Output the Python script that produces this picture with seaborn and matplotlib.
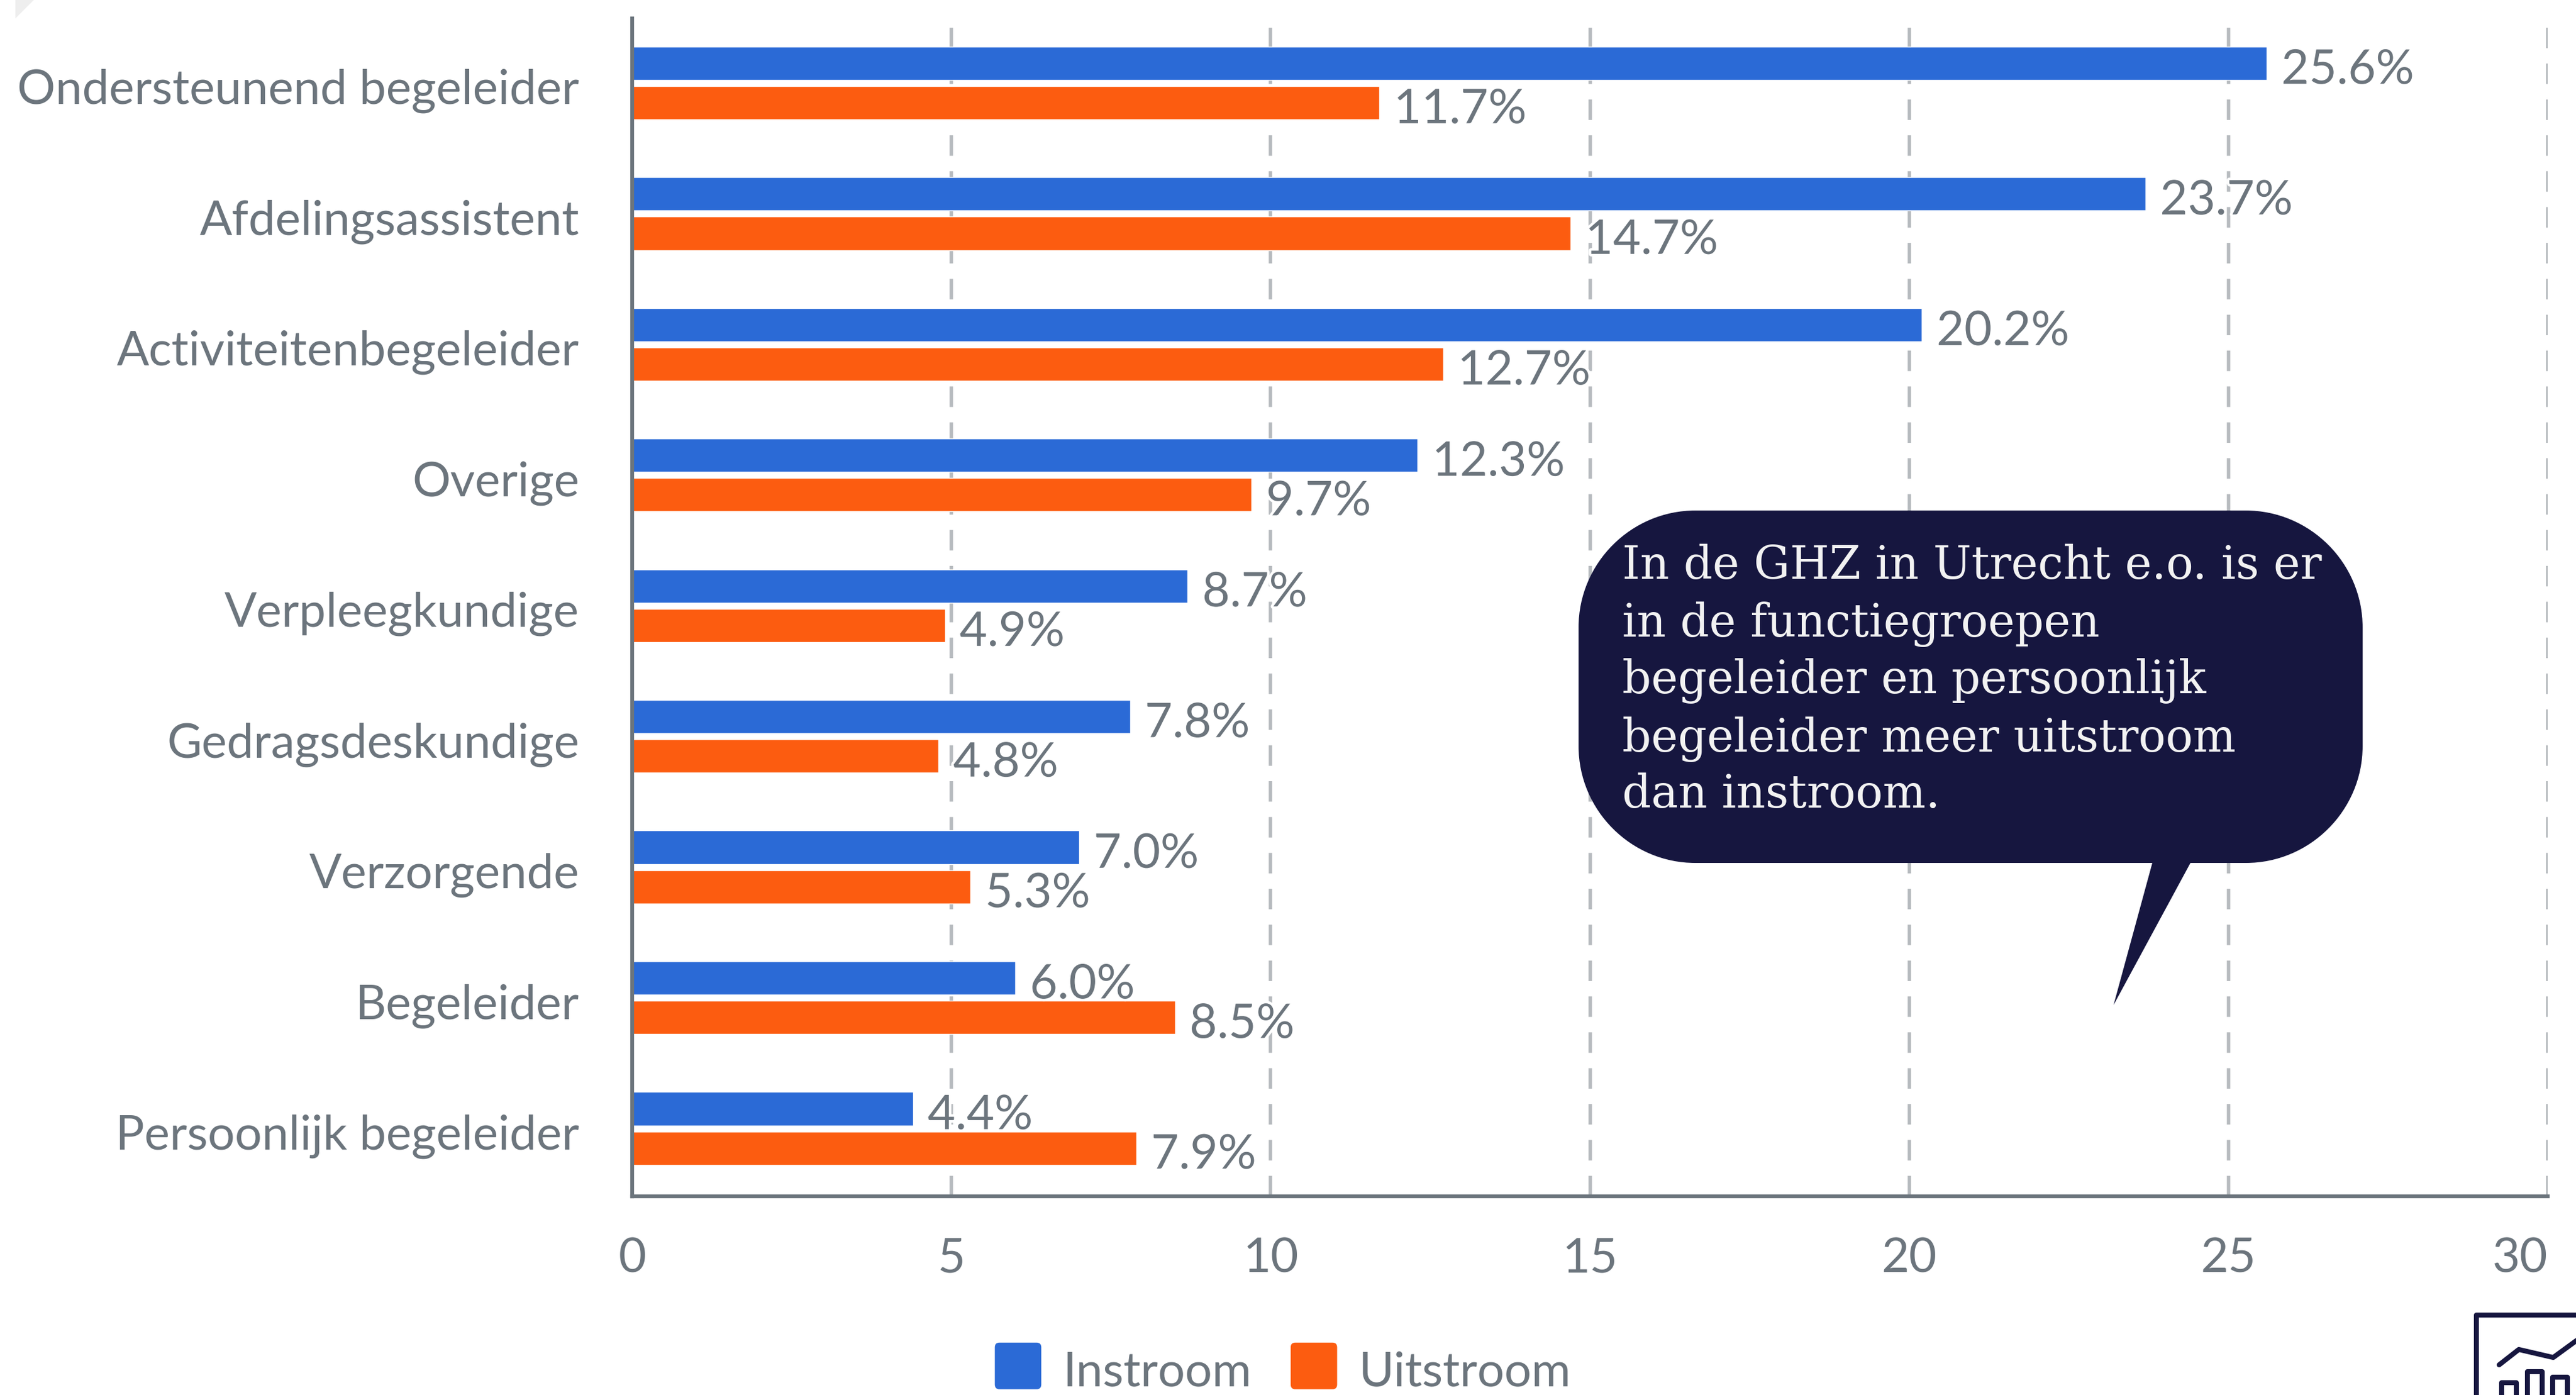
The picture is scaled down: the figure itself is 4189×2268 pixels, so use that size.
import matplotlib
matplotlib.use('Agg')
import matplotlib.pyplot as plt
import matplotlib.patheffects as pe
from matplotlib.legend_handler import HandlerPatch
from matplotlib.lines import Line2D
from matplotlib.patches import FancyBboxPatch, PathPatch, Polygon, Rectangle
from matplotlib.path import Path
from matplotlib.transforms import Affine2D, ScaledTranslation
import pandas as pd
import seaborn as sns

categories = ['Ondersteunend begeleider', 'Afdelingsassistent', 'Activiteitenbegeleider',
              'Overige', 'Verpleegkundige', 'Gedragsdeskundige', 'Verzorgende',
              'Begeleider', 'Persoonlijk begeleider']
instroom = [25.6, 23.7, 20.2, 12.3, 8.7, 7.8, 7.0, 6.0, 4.4]
uitstroom = [11.7, 14.7, 12.7, 9.7, 4.9, 4.8, 5.3, 8.5, 7.9]
x_ticks = [0, 5, 10, 15, 20, 25, 30]
note_lines = ['In de GHZ in Utrecht e.o. is er', 'in de functiegroepen',
              'begeleider en persoonlijk', 'begeleider meer uitstroom', 'dan instroom.']

W, H = 4189, 2268
GREY = '#6c757d'
GRID = '#b6babe'
NAVY = '#16163f'
BLUE = '#2b6ad6'
ORANGE = '#fc5c10'
FS = 56


def round_swatch(legend, orig_handle, xdescent, ydescent, width, height, fontsize):
    return FancyBboxPatch((-xdescent + 4, -ydescent + 9), width - 8, height - 8,
                          boxstyle='round,pad=4,rounding_size=6')


sns.set_theme(style='white')
plt.rcParams['font.family'] = ['Lato', 'DejaVu Sans']

df = pd.DataFrame({'Functie': categories, 'Instroom': instroom, 'Uitstroom': uitstroom})
df = df.melt(id_vars='Functie', var_name='Stroom', value_name='Percentage')

fig = plt.figure(figsize=(W / 100, H / 100), dpi=100, facecolor='white')
ax = fig.add_axes([1028 / W, 1 - 1945 / H, (4143 - 1028) / W, (1945 - 30) / H])

sns.barplot(data=df, y='Functie', x='Percentage', hue='Stroom', order=categories,
            palette=[BLUE, ORANGE], width=0.604, gap=0.156, saturation=1, ax=ax, zorder=3)

ax.set_xlim(0, 30)
ax.set_ylim(8.52, -0.494)
ax.set_xlabel('')
ax.set_ylabel('')
ax.set_xticks(x_ticks)
ax.tick_params(axis='both', length=0, labelsize=FS, labelcolor=GREY)
ax.tick_params(axis='x', pad=48)
ax.tick_params(axis='y', pad=62)
ax.get_xticklabels()[-1].set_ha('right')

down = ScaledTranslation(0, -4 / 72, fig.dpi_scale_trans)
for t in ax.get_yticklabels():
    t.set_transform(t.get_transform() + down)

for s in ['top', 'right']:
    ax.spines[s].set_visible(False)
for s in ['left', 'bottom']:
    ax.spines[s].set_color(GREY)
    ax.spines[s].set_linewidth(4.5)
    ax.spines[s].set_zorder(4)

for t in x_ticks[1:]:
    ax.axvline(t, color=GRID, lw=4, dashes=(6, 4.5), zorder=1)

for c in ax.containers:
    labels = ax.bar_label(c, fmt='%.1f%%', padding=17, fontsize=FS, color=GREY, zorder=5,
                          path_effects=[pe.withStroke(linewidth=6, foreground='white')])
    for t in labels:
        t.xyann = (t.xyann[0], -8.5)

sns.move_legend(ax, 'lower left', bbox_to_anchor=(1617 / W, 0), bbox_transform=fig.transFigure,
                ncol=2, frameon=False, title=None, fontsize=FS, handlelength=0.99, handleheight=1.15,
                handletextpad=0.45, columnspacing=0.8, borderpad=0, borderaxespad=0,
                handler_map={Rectangle: HandlerPatch(patch_func=round_swatch)})
for t in ax.get_legend().get_texts():
    t.set_color(GREY)

# everything below is placed in image pixels, y going down
px = Affine2D().scale(1 / W, -1 / H).translate(0, 1) + fig.transFigure

# speech bubble
x0, x1, y0, y1 = 2567, 3842, 830, 1403
r = 190
k = r * 0.45
verts = [(x0 + r, y0), (x1 - r, y0), (x1 - k, y0), (x1, y0 + k), (x1, y0 + r),
         (x1, y1 - r), (x1, y1 - k), (x1 - k, y1), (x1 - r, y1),
         (3562, y1), (3437, 1634), (3500, y1), (x0 + r, y1),
         (x0 + k, y1), (x0, y1 - k), (x0, y1 - r), (x0, y0 + r),
         (x0, y0 + k), (x0 + k, y0), (x0 + r, y0), (x0 + r, y0)]
codes = [Path.MOVETO, Path.LINETO] + [Path.CURVE4] * 3 + [Path.LINETO] + [Path.CURVE4] * 3 \
    + [Path.LINETO] * 4 + [Path.CURVE4] * 3 + [Path.LINETO] + [Path.CURVE4] * 3 + [Path.CLOSEPOLY]
fig.add_artist(PathPatch(Path(verts, codes), facecolor=NAVY, edgecolor='none', transform=px, zorder=6))
baselines = [941, 1035, 1127, 1222, 1313]
for line, yb in zip(note_lines, baselines):
    fig.text(2638, yb, line, transform=px, family='DejaVu Serif', fontsize=53, color='#f2f2f2',
             va='baseline', ha='left', zorder=7)

# corner decoration
fig.add_artist(Polygon([(25, 0), (55, 0), (25, 30)], facecolor='#eeeeee', edgecolor='none', transform=px))

# chart icon bottom right, runs off the picture
icon_paths = [
    [(4027, 2290), (4027, 2138), (4200, 2138)],
    [(4064, 2219), (4096, 2194), (4152, 2207), (4200, 2172)],
    [(4068, 2290), (4068, 2248), (4092, 2248), (4092, 2290)],
    [(4110, 2290), (4110, 2230), (4134, 2230), (4134, 2290)],
    [(4151, 2290), (4151, 2239), (4175, 2239), (4175, 2290)],
    [(4192, 2290), (4192, 2206)],
]
for p in icon_paths:
    fig.add_artist(Line2D([q[0] for q in p], [q[1] for q in p], color=NAVY, lw=5.8, transform=px,
                          solid_joinstyle='round', solid_capstyle='round'))

plt.savefig('out.png', dpi=100)
